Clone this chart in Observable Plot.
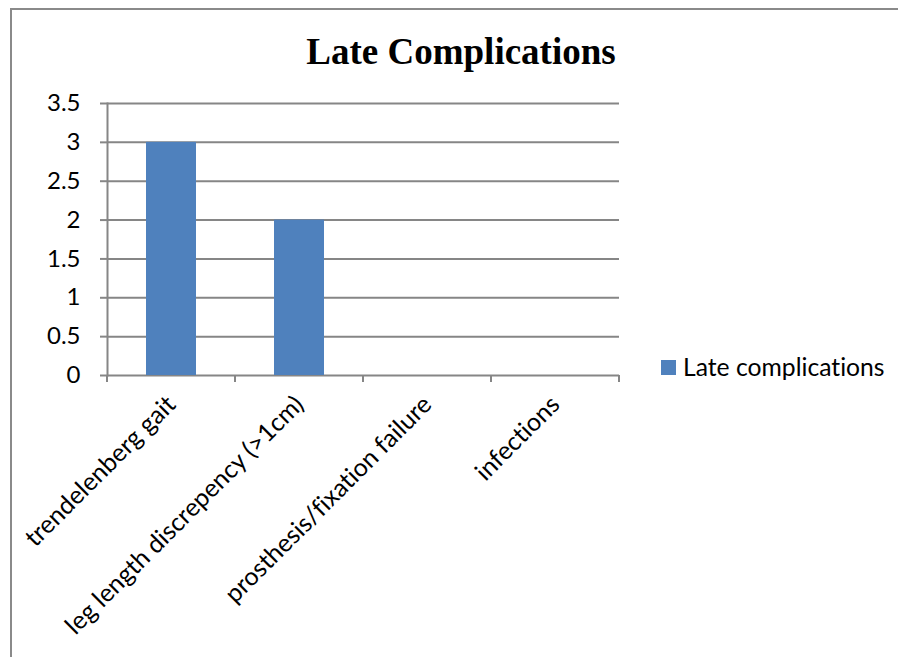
<!DOCTYPE html>
<html><head><meta charset="utf-8">
<script src="https://cdn.jsdelivr.net/npm/d3@7"></script>
<script src="https://cdn.jsdelivr.net/npm/@observablehq/plot@0.6"></script>
<style>
body{margin:0;background:#fff}
#wrap{position:relative;width:898px;height:657px;overflow:hidden;background:#fff}
#frame{position:absolute;left:10px;top:8px;width:1000px;height:1000px;border-top:2px solid #8a8a8a;border-left:2px solid #8a8a8a;box-sizing:border-box}
#title{position:absolute;left:0;width:922px;top:30px;text-align:center;font-family:"Liberation Serif","Times New Roman",serif;font-weight:bold;font-size:37px;color:#000;line-height:44px;white-space:nowrap}
#legend{position:absolute;left:661px;top:353px;font-family:Lato,"Noto Sans",sans-serif;font-size:24.7px;color:#000;line-height:28px;display:flex;align-items:center;white-space:nowrap;font-variant-ligatures:none}
#legend .sw{width:15px;height:15px;background:#4f81bd;margin-right:7px}
#chart{position:absolute;left:0;top:0}
#chart svg, #chart svg text{font-variant-ligatures:none;font-feature-settings:"liga" 0}
</style></head>
<body>
<div id="wrap">
  <div id="chart"></div>
  <div id="frame"></div>
  <div id="title">Late Complications</div>
  <div id="legend"><span class="sw"></span><span>Late complications</span></div>
</div>
<script>
const categories = ["trendelenberg gait", "leg length discrepency (>1cm)", "prosthesis/fixation failure", "infections"];
const values = [3, 2, 0, 0];
const yTicks = [0, 0.5, 1, 1.5, 2, 2.5, 3, 3.5];
const seriesName = "Late complications";

const data = categories.map((c, i) => ({category: c, value: values[i], series: seriesName}));
const grid = "#868686";
const font = "Lato, 'Noto Sans', sans-serif";

const plot = Plot.plot({
  width: 898,
  height: 657,
  marginLeft: 107,
  marginRight: 279,
  marginTop: 103,
  marginBottom: 282,
  style: {fontFamily: font, fontSize: "24px", color: "#000", background: "transparent", overflow: "visible"},
  x: {domain: categories, paddingInner: 0.61, paddingOuter: 0.305},
  y: {domain: [0, 3.5], ticks: yTicks},
  marks: [
    Plot.gridY(yTicks, {stroke: grid, strokeOpacity: 1, strokeWidth: 2}),
    Plot.barY(data, {x: "category", y: "value", fill: "#4f81bd"}),
    Plot.axisY(yTicks, {tickSize: 7, tickPadding: 20, stroke: grid, strokeWidth: 2, tickFormat: d => String(d), fontSize: 24, label: null}),
    Plot.frame({anchor: "left", stroke: grid, strokeWidth: 2}),
    Plot.axisX({tickSize: 0, tickRotate: -45, tickPadding: 25, fontSize: 25, label: null})
  ]
});

// category boundary ticks on the x axis, from Plot's own band scale
const xs = plot.scale("x");
const step = xs.step, bw = xs.bandwidth;
const bounds = categories.map(c => xs.apply(c) - (step - bw) / 2);
bounds.push(bounds[bounds.length - 1] + step);
const y0 = plot.scale("y").apply(0);
d3.select(plot).append("g")
  .selectAll("line").data(bounds).join("line")
  .attr("x1", d => d).attr("x2", d => d)
  .attr("y1", y0).attr("y2", y0 + 7)
  .attr("stroke", grid).attr("stroke-width", 2);

document.getElementById("chart").appendChild(plot);
</script>
</body></html>
